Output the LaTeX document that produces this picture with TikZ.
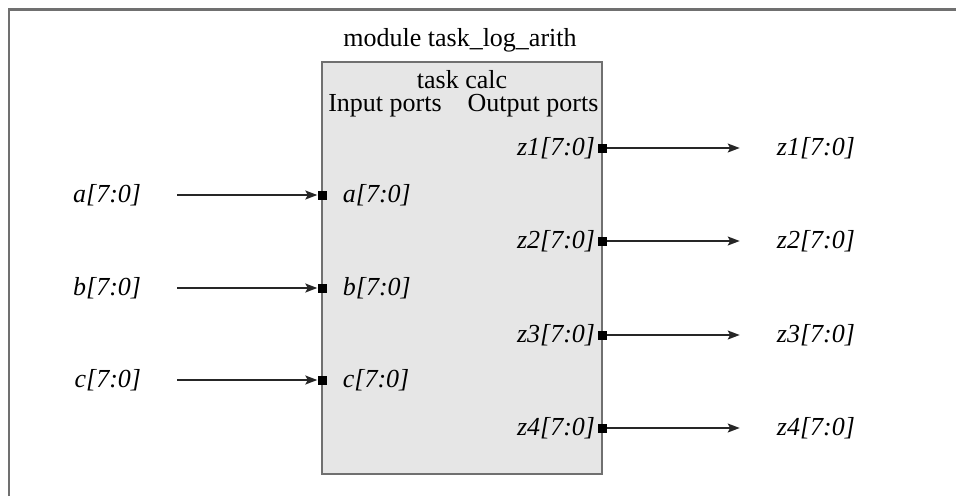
\documentclass[tikz,border=0pt]{standalone}
\usepackage{fontspec}
\setmainfont{Liberation Serif}
\usetikzlibrary{arrows.meta, positioning}
\definecolor{boxgray}{HTML}{E6E6E6}
\definecolor{edgegray}{HTML}{707070}
\tikzstyle{taskbox} = [draw=edgegray, fill=boxgray, line width=2pt, minimum width=280pt, minimum height=412pt, inner sep=0pt]
\tikzstyle{portsq} = [fill=black, minimum size=9pt, inner sep=0pt]
\tikzstyle{sig} = [font=\fontsize{26}{31}\selectfont\itshape, inner sep=2pt]
\tikzstyle{arrw} = [line width=1.5pt, color=black!85, -{Stealth[length=12pt, width=9pt, inset=2.5pt]}]

\begin{document}
\begin{tikzpicture}[x=1pt, y=-1pt, font=\fontsize{26}{31}\selectfont]
    \useasboundingbox (0,0) rectangle (956,496);
    \draw [edgegray, line width=2.5pt] (9,496) -- (9,9.5) -- (956,9.5);

    \node (calc) [taskbox] at (462,268) {};
    \node (mod) at (460,40) {module task\_log\_arith};
    \node (tc) at (462,80) {task calc};
    \node (ip) at (385,106) {Input ports};
    \node (op) at (533,106) {Output ports};

    % input side
    \node (pa) [portsq] at (322,195) {};
    \node (pb) [portsq] at (322,288) {};
    \node (pc) [portsq] at (322,380) {};
    \node (ain) [sig, right=14pt of pa] {a[7:0]};
    \node (bin) [sig, right=14pt of pb] {b[7:0]};
    \node (cin) [sig, right=14pt of pc] {c[7:0]};
    \node (a) [sig, left=174pt of pa] {a[7:0]};
    \node (b) [sig, left=174pt of pb] {b[7:0]};
    \node (c) [sig, left=174pt of pc] {c[7:0]};

    % output side
    \node (pz1) [portsq] at (602,148) {};
    \node (pz2) [portsq] at (602,241) {};
    \node (pz3) [portsq] at (602,335) {};
    \node (pz4) [portsq] at (602,428) {};
    \node (z1in) [sig, left=0pt of pz1] {z1[7:0]};
    \node (z2in) [sig, left=0pt of pz2] {z2[7:0]};
    \node (z3in) [sig, left=0pt of pz3] {z3[7:0]};
    \node (z4in) [sig, left=0pt of pz4] {z4[7:0]};
    \node (z1) [sig, right=168pt of pz1] {z1[7:0]};
    \node (z2) [sig, right=168pt of pz2] {z2[7:0]};
    \node (z3) [sig, right=168pt of pz3] {z3[7:0]};
    \node (z4) [sig, right=168pt of pz4] {z4[7:0]};

    \draw [arrw, shorten <=34pt] (a) -- (pa);
    \draw [arrw, shorten <=34pt] (b) -- (pb);
    \draw [arrw, shorten <=34pt] (c) -- (pc);
    \draw [arrw, shorten >=35pt] (pz1) -- (z1);
    \draw [arrw, shorten >=35pt] (pz2) -- (z2);
    \draw [arrw, shorten >=35pt] (pz3) -- (z3);
    \draw [arrw, shorten >=35pt] (pz4) -- (z4);
\end{tikzpicture}
\end{document}
